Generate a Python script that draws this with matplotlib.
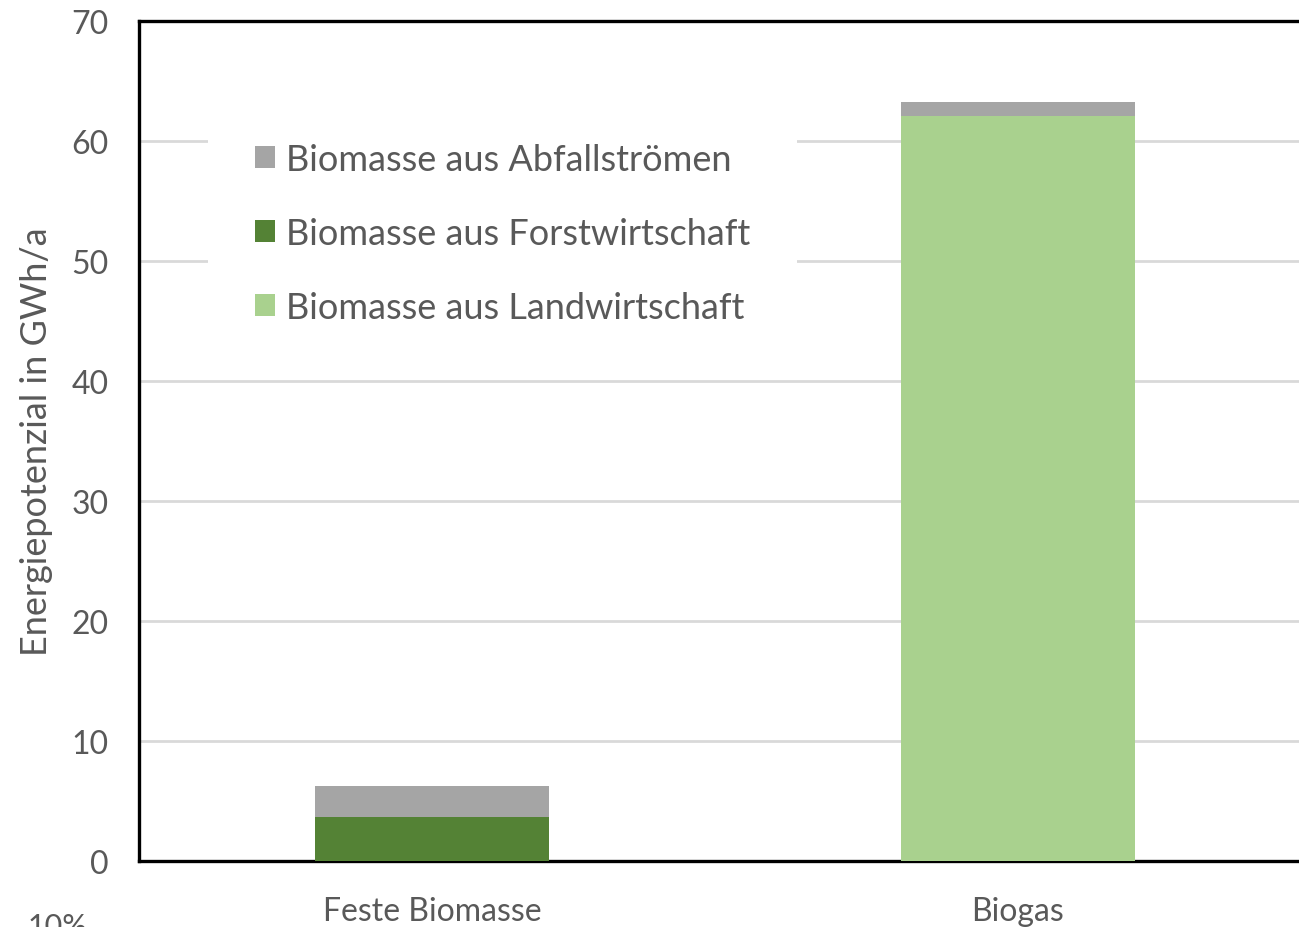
import numpy as np
import matplotlib.pyplot as plt

plt.rcParams['font.family'] = ['Lato', 'DejaVu Sans']

# Energiepotenzial nach Herkunft (GWh/a)
kategorien = ["Feste Biomasse", "Biogas"]
landwirtschaft = [0.0, 62.1]
forstwirtschaft = [3.7, 0.0]
abfall = [2.55, 1.15]

c_land = '#a9d18e'
c_forst = '#548235'
c_abfall = '#a5a5a5'
txt = '#595959'

fig = plt.figure(figsize=(12.99, 9.28), dpi=100)
ax = fig.add_axes([139 / 1299, 1 - 862 / 928, 1172 / 1299, 840 / 928])

x = np.arange(len(kategorien))
w = 0.4
unten = np.zeros(len(kategorien))
b_land = ax.bar(x, landwirtschaft, w, bottom=unten, color=c_land, label="Biomasse aus Landwirtschaft", zorder=3)
unten += landwirtschaft
b_forst = ax.bar(x, forstwirtschaft, w, bottom=unten, color=c_forst, label="Biomasse aus Forstwirtschaft", zorder=3)
unten += forstwirtschaft
b_abf = ax.bar(x, abfall, w, bottom=unten, color=c_abfall, label="Biomasse aus Abfallströmen", zorder=3)

ax.set_xlim(-0.5, 1.5)
ax.set_ylim(0, 70)
ax.set_yticks(np.arange(0, 71, 10))
ax.set_xticks(x)
ax.set_xticklabels(kategorien)
ax.tick_params(axis='y', length=0, pad=22, labelsize=23, labelcolor=txt)
ax.tick_params(axis='x', length=0, pad=25, labelsize=23, labelcolor=txt)
ax.yaxis.grid(True, color='#d9d9d9', linewidth=2, zorder=0)
ax.set_axisbelow(True)
for s in ax.spines.values():
    s.set_linewidth(2.4)
    s.set_color('black')

ax.set_ylabel("Energiepotenzial in GWh/a", fontsize=26, color=txt)
ax.yaxis.set_label_coords(-0.073, 0.5)

leg = ax.legend(handles=[b_abf, b_forst, b_land], loc='upper left',
                bbox_to_anchor=((208 - 139) / 1172, (862 - 97) / 840),
                borderaxespad=0, frameon=True, fontsize=26,
                handlelength=0.55, handleheight=0.55, handletextpad=0.3,
                labelspacing=1.13, borderpad=1.3)
leg.get_frame().set_facecolor('white')
leg.get_frame().set_edgecolor('none')
leg.get_frame().set_alpha(1)
leg.set_zorder(5)
for t in leg.get_texts():
    t.set_color(txt)

fig.text(28 / 1299, -8 / 928, "10%", fontsize=22, color=txt)

fig.savefig("out.png", dpi=100)
